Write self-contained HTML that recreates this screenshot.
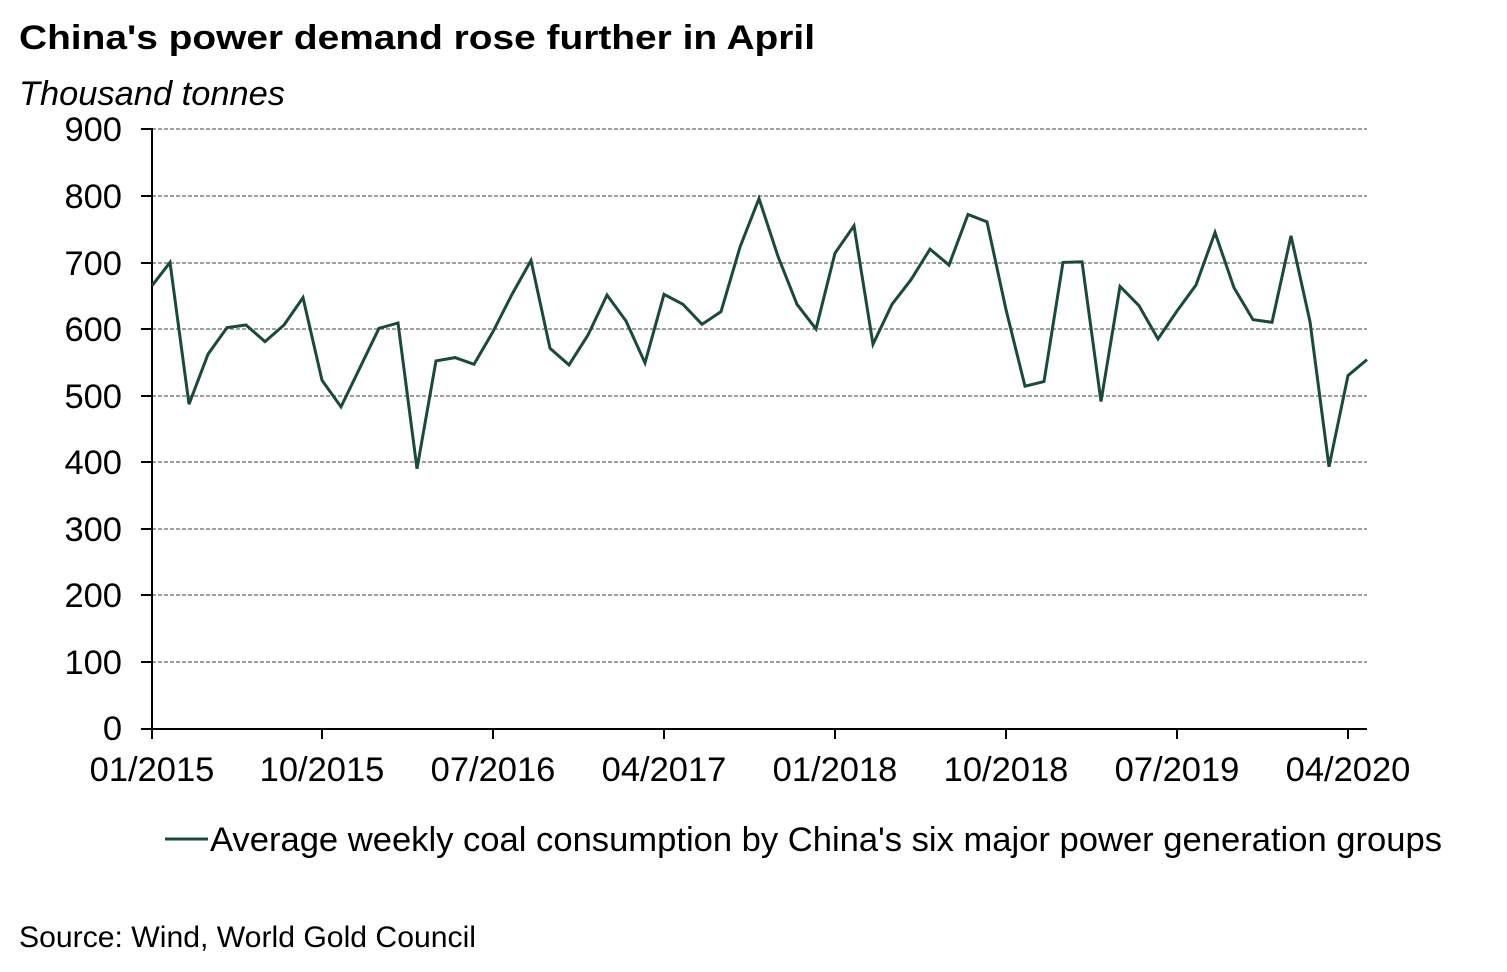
<!DOCTYPE html>
<html><head><meta charset="utf-8"><style>
body{margin:0;background:#fff;}
svg text{font-family:"Liberation Sans",Arial,sans-serif;fill:#000;}
</style></head><body>
<svg width="1507" height="967" viewBox="0 0 1507 967" xmlns="http://www.w3.org/2000/svg">
<text x="19" y="49" font-size="34" font-weight="bold" textLength="796" lengthAdjust="spacingAndGlyphs">China's power demand rose further in April</text>
<text x="19" y="105" font-size="34" font-style="italic" textLength="266" lengthAdjust="spacingAndGlyphs">Thousand tonnes</text>
<g stroke="#666" stroke-width="1.3" stroke-dasharray="4,2">
<line x1="152" y1="129" x2="1367" y2="129"/><line x1="152" y1="196" x2="1367" y2="196"/>
<line x1="152" y1="263" x2="1367" y2="263"/><line x1="152" y1="329" x2="1367" y2="329"/>
<line x1="152" y1="396" x2="1367" y2="396"/><line x1="152" y1="462" x2="1367" y2="462"/>
<line x1="152" y1="529" x2="1367" y2="529"/><line x1="152" y1="595" x2="1367" y2="595"/>
<line x1="152" y1="662" x2="1367" y2="662"/>
</g>
<g stroke="#000" stroke-width="2">
<line x1="152" y1="128" x2="152" y2="729"/><line x1="141" y1="729" x2="1367" y2="729"/>
<line x1="141" y1="129" x2="152" y2="129"/><line x1="141" y1="196" x2="152" y2="196"/>
<line x1="141" y1="263" x2="152" y2="263"/><line x1="141" y1="329" x2="152" y2="329"/>
<line x1="141" y1="396" x2="152" y2="396"/><line x1="141" y1="462" x2="152" y2="462"/>
<line x1="141" y1="529" x2="152" y2="529"/><line x1="141" y1="595" x2="152" y2="595"/>
<line x1="141" y1="662" x2="152" y2="662"/>
<line x1="152" y1="729" x2="152" y2="739"/><line x1="322" y1="729" x2="322" y2="739"/>
<line x1="493" y1="729" x2="493" y2="739"/><line x1="664" y1="729" x2="664" y2="739"/>
<line x1="835" y1="729" x2="835" y2="739"/><line x1="1006" y1="729" x2="1006" y2="739"/>
<line x1="1177" y1="729" x2="1177" y2="739"/><line x1="1348" y1="729" x2="1348" y2="739"/>
</g>
<g font-size="34.5" text-anchor="end">
<text x="122" y="141">900</text><text x="122" y="208">800</text><text x="122" y="275">700</text>
<text x="122" y="341">600</text><text x="122" y="408">500</text><text x="122" y="474">400</text>
<text x="122" y="541">300</text><text x="122" y="607">200</text><text x="122" y="674">100</text>
<text x="122" y="740">0</text>
</g>
<g font-size="34.5" text-anchor="middle">
<text x="152" y="781">01/2015</text><text x="322" y="781">10/2015</text><text x="493" y="781">07/2016</text>
<text x="664" y="781">04/2017</text><text x="835" y="781">01/2018</text><text x="1006" y="781">10/2018</text>
<text x="1177" y="781">07/2019</text><text x="1348" y="781">04/2020</text>
</g>
<g transform="translate(0,729) scale(1,-0.6656)">
<polyline fill="none" stroke="#1b4a3c" stroke-width="3" vector-effect="non-scaling-stroke" stroke-linejoin="miter"
points="152,666 170,701 189,488 208,563 227,603 246,607 265,582 284,607 303,648 322,524 341,484 360,543 379,602 398,610 417,391 436,553 455,558 474,548 493,597 512,653 531,704 550,572 569,547 588,592 607,652 626,613 645,550 664,653 683,638 702,608 721,627 740,724 759,797 778,710 797,638 816,601 835,715 854,756 873,578 892,638 911,675 930,721 949,697 968,773 987,762 1006,630 1025,515 1044,522 1063,701 1082,702 1101,492 1120,665 1139,636 1158,586 1177,628 1196,667 1215,746 1234,663 1253,615 1272,611 1291,741 1310,612 1329,394 1348,531 1367,555"/>
</g>
<line x1="165" y1="839" x2="208" y2="839" stroke="#1b4a3c" stroke-width="3"/>
<text x="210" y="851" font-size="34.5" textLength="1232" lengthAdjust="spacingAndGlyphs">Average weekly coal consumption by China's six major power generation groups</text>
<text x="19" y="947" font-size="30" textLength="457" lengthAdjust="spacingAndGlyphs">Source: Wind, World Gold Council</text>
</svg>
</body></html>
